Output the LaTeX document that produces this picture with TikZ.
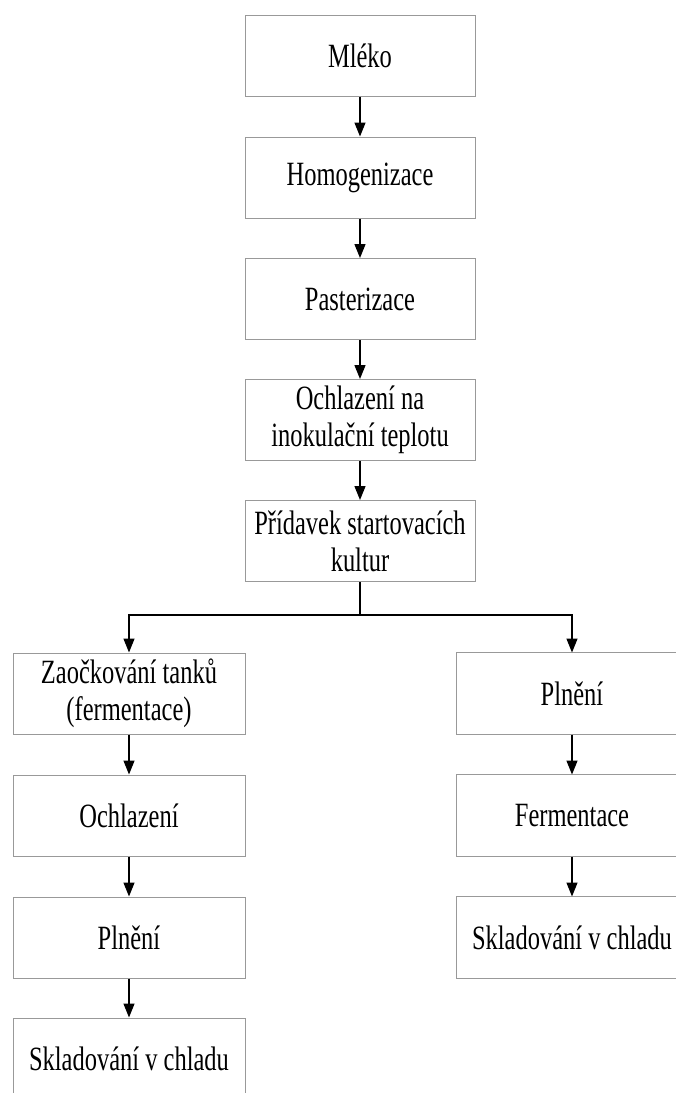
\documentclass[tikz,border=0pt]{standalone}
\usepackage{fontspec}
\setmainfont[FakeStretch=0.72]{Liberation Serif}
\usetikzlibrary{arrows.meta}
\tikzset{
  stepbox/.style={draw=black!40, line width=1pt, rectangle, minimum width=230pt, minimum height=81pt, inner sep=0pt, align=center, font=\fontsize{34}{37}\selectfont, text=black},
  openbox/.style={stepbox, draw=none},
  boxline/.style={draw=black!40, line width=1pt},
  flow/.style={draw=black, line width=1.4pt, -{Triangle[length=14pt,width=11pt]}},
  plain/.style={draw=black, line width=1.4pt}
}
\begin{document}
\begin{tikzpicture}[x=1pt,y=1pt]
\useasboundingbox (0,0) rectangle (676,-1093);
\node[stepbox] (m) at (360,-55.5) {Mléko};
\node[stepbox] (h) at (360,-177.5) {Homogenizace};
\node[stepbox] (p) at (360,-299) {Pasterizace};
\node[stepbox] (o) at (360,-420) {Ochlazení na\\inokulační teplotu};
\node[stepbox] (s) at (360,-541) {Přídavek startovacích\\kultur};
\node[stepbox, minimum width=232pt] (l1) at (129,-693.5) {Zaočkování tanků\\(fermentace)};
\node[stepbox, minimum width=232pt] (l2) at (129,-815.5) {Ochlazení};
\node[stepbox, minimum width=232pt] (l3) at (129,-937.5) {Plnění};
\node[stepbox, minimum width=232pt] (l4) at (129,-1058.5) {Skladování v chladu};
\node[openbox] (r1) at (572,-693.5) {Plnění};
\node[openbox] (r2) at (572,-815.5) {Fermentace};
\node[openbox] (r3) at (572,-937.5) {Skladování v chladu};
\foreach \n in {r1,r2,r3}{
  \coordinate (\n e1) at (\n.north west -| 676,0);
  \coordinate (\n e2) at (\n.south west -| 676,0);
  \draw[boxline] (\n e1) -- (\n.north west) -- (\n.south west) -- (\n e2);
}
\coordinate (j) at (360,-615);
\draw[flow] (m) -- (h);
\draw[flow] (h) -- (p);
\draw[flow] (p) -- (o);
\draw[flow] (o) -- (s);
\draw[plain] (s.south) -- (j);
\draw[flow] (j) -| (l1.north);
\draw[flow] (j) -| (r1.north);
\draw[flow] (l1) -- (l2);
\draw[flow] (l2) -- (l3);
\draw[flow] (l3) -- (l4);
\draw[flow] (r1) -- (r2);
\draw[flow] (r2) -- (r3);
\end{tikzpicture}
\end{document}
